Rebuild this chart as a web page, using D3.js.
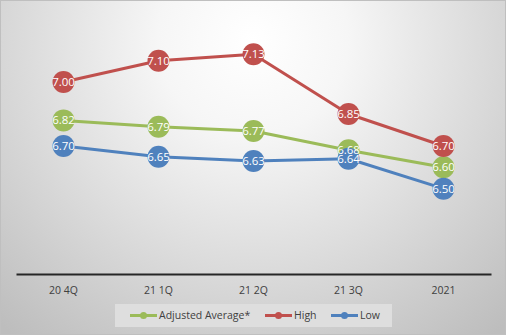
<!DOCTYPE html>
<html><head><meta charset="utf-8">
<script src="https://cdn.jsdelivr.net/npm/d3@7"></script>
<style>html,body{margin:0;padding:0;background:#fff;}svg{display:block;}</style>
</head><body>
<svg id="c" width="506" height="335"></svg>
<script>
const categories = ["20 4Q", "21 1Q", "21 2Q", "21 3Q", "2021"];
const adjustedAverage = [6.82, 6.79, 6.77, 6.68, 6.60];
const high = [7.00, 7.10, 7.13, 6.85, 6.70];
const low = [6.70, 6.65, 6.63, 6.64, 6.50];
const seriesNames = ["Adjusted Average*", "High", "Low"];
const colors = ["#9BBB59", "#C0504D", "#4F81BD"];
const yDomain = [6.1, 7.3];

const W = 506, H = 335;
const svg = d3.select("#c");
const defs = svg.append("defs");
const grad = defs.append("radialGradient").attr("id", "bg")
  .attr("gradientUnits", "userSpaceOnUse")
  .attr("cx", 253).attr("cy", 40).attr("r", 380)
  .attr("fx", 253).attr("fy", 40);
grad.append("stop").attr("offset", "0").attr("stop-color", "#ffffff");
grad.append("stop").attr("offset", "0.25").attr("stop-color", "#f6f6f6");
grad.append("stop").attr("offset", "1").attr("stop-color", "#bdbdbd");

svg.append("rect").attr("x", 0.5).attr("y", 0.5).attr("width", W - 1).attr("height", H - 1)
  .attr("fill", "url(#bg)").attr("stroke", "#bfbfbf").attr("stroke-width", 1);

const x = d3.scaleBand().domain(categories).range([16, 491]);
const y = d3.scaleLinear().domain(yDomain).range([274, 18]);

const xAxis = svg.append("g").attr("transform", "translate(0,274)")
  .call(d3.axisBottom(x).tickSize(0).tickPadding(13));
xAxis.select(".domain").attr("stroke", "#262626").attr("stroke-width", 2);
xAxis.selectAll("text").attr("font-family", "'Open Sans', sans-serif").attr("font-size", 10.5).attr("fill", "#404040");

const series = [adjustedAverage, high, low];
const line = d3.line().x((d, i) => x(categories[i]) + x.bandwidth() / 2).y(d => y(d));

series.forEach((vals, si) => {
  const g = svg.append("g");
  g.append("path").datum(vals).attr("d", line).attr("fill", "none")
    .attr("stroke", colors[si]).attr("stroke-width", 3).attr("stroke-linejoin", "round");
});
series.forEach((vals, si) => {
  const g = svg.append("g");
  g.selectAll("circle").data(vals).enter().append("circle")
    .attr("cx", (d, i) => x(categories[i]) + x.bandwidth() / 2)
    .attr("cy", d => y(d)).attr("r", 11).attr("fill", colors[si]);
});
series.forEach((vals, si) => {
  const g = svg.append("g");
  g.selectAll("text").data(vals).enter().append("text")
    .attr("x", (d, i) => x(categories[i]) + x.bandwidth() / 2)
    .attr("y", d => y(d)).attr("dy", "0.35em")
    .attr("text-anchor", "middle").attr("fill", "#ffffff")
    .attr("font-family", "'Open Sans', sans-serif").attr("font-size", 11.5)
    .text(d => d.toFixed(2));
});

// legend
const lg = svg.append("g");
lg.append("rect").attr("x", 115).attr("y", 304).attr("width", 277).attr("height", 23).attr("fill", "#dedede");
const legendX = [130, 265, 331];
seriesNames.forEach((n, i) => {
  const lx = legendX[i];
  lg.append("line").attr("x1", lx).attr("x2", lx + 27).attr("y1", 315.5).attr("y2", 315.5)
    .attr("stroke", colors[i]).attr("stroke-width", 3);
  lg.append("circle").attr("cx", lx + 13.5).attr("cy", 315.5).attr("r", 3.5).attr("fill", colors[i]);
  lg.append("text").attr("x", lx + 29).attr("y", 315.5).attr("dy", "0.35em")
    .attr("font-family", "'Open Sans', sans-serif").attr("font-size", 10.5).attr("fill", "#404040")
    .text(n);
});
</script>
</body></html>
